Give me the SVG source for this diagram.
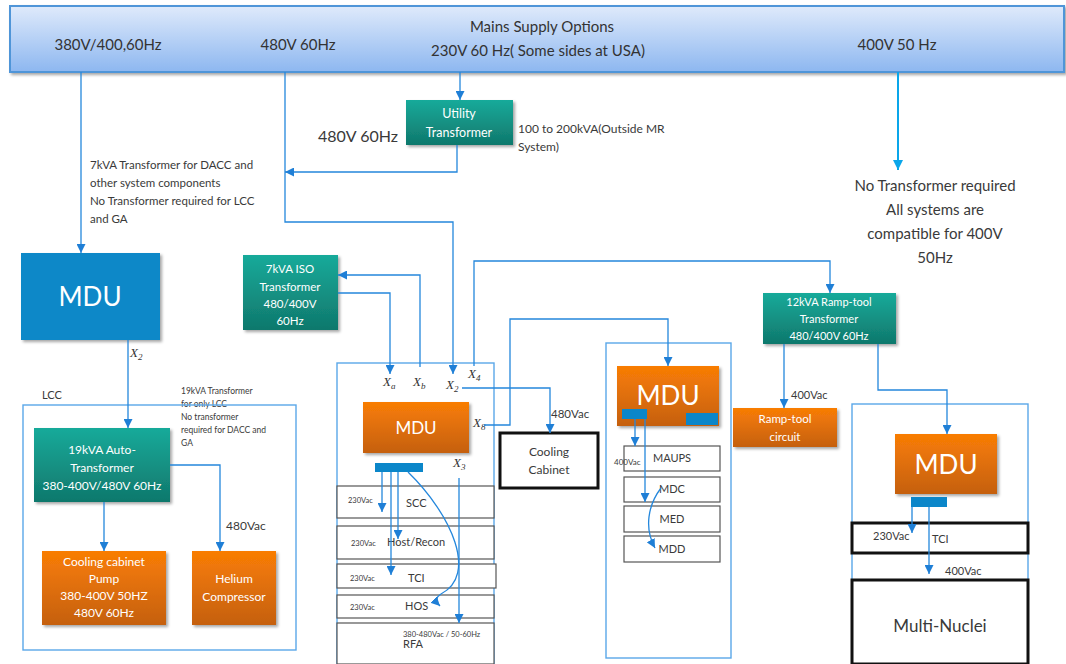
<svg xmlns="http://www.w3.org/2000/svg" width="1066" height="664" viewBox="0 0 1066 664">
  <defs>
    <linearGradient id="gBanner" x1="0" y1="0" x2="0" y2="1">
      <stop offset="0" stop-color="#dfeafb"/>
      <stop offset="1" stop-color="#8db7f0"/>
    </linearGradient>
    <linearGradient id="gTeal" x1="0" y1="0" x2="0" y2="1">
      <stop offset="0" stop-color="#19aa9a"/>
      <stop offset="1" stop-color="#0f786c"/>
    </linearGradient>
    <linearGradient id="gOrange" x1="0" y1="0" x2="0" y2="1">
      <stop offset="0" stop-color="#f97d05"/>
      <stop offset="1" stop-color="#c5600f"/>
    </linearGradient>
    <filter id="shadow" x="-10%" y="-10%" width="130%" height="140%">
      <feDropShadow dx="2" dy="2" stdDeviation="1.5" flood-color="#000" flood-opacity="0.35"/>
    </filter>
    <marker id="arr" viewBox="0 0 10 10" refX="10" refY="5" markerWidth="9" markerHeight="9" markerUnits="userSpaceOnUse" orient="auto">
      <path d="M0,0 L10,5 L0,10 z" fill="#1f7fd6"/>
    </marker>
    <marker id="arrCyan" viewBox="0 0 10 10" refX="10" refY="5" markerWidth="10" markerHeight="10" markerUnits="userSpaceOnUse" orient="auto">
      <path d="M0,0 L10,5 L0,10 z" fill="#0aa6ea"/>
    </marker>
  </defs>
  <style>
    text { font-family: Lato, "Open Sans", "Liberation Sans", sans-serif; }
    .hdr { font-size: 15px; fill: #333; }
    .lbl { fill: #3a3a3a; }
    .wt { fill: #ffffff; text-anchor: middle; }
    .mid { text-anchor: middle; }
    .teal { fill: url(#gTeal); filter: url(#shadow); }
    .orange { fill: url(#gOrange); filter: url(#shadow); }
    .frame { fill: none; stroke: #5aa7e8; stroke-width: 1.4; }
    .row { fill: #fff; stroke: #555; stroke-width: 1.2; }
    .thick { fill: #fff; stroke: #111; stroke-width: 3; }
    .bar { fill: #0b86c9; }
    .xl { font-family: "Liberation Serif", "DejaVu Serif", serif; font-style: italic; font-size: 13px; fill: #333; }
    .xs { font-size: 9px; }
    .conn path { fill: none; stroke: #2487dc; stroke-width: 1.3; }
    .conn path.a { marker-end: url(#arr); }
  </style>

  <rect width="1066" height="664" fill="#ffffff"/>

  <!-- mains supply banner -->
  <g id="mains">
    <rect x="10" y="6" width="1054" height="66" fill="url(#gBanner)" stroke="#4f95d8" stroke-width="2" filter="url(#shadow)"/>
    <text class="hdr" x="108" y="50" text-anchor="middle">380V/400,60Hz</text>
    <text class="hdr" x="298" y="50" text-anchor="middle">480V 60Hz</text>
    <text class="hdr" x="542" y="32" text-anchor="middle">Mains Supply Options</text>
    <text class="hdr" x="538" y="56" text-anchor="middle">230V 60 Hz( Some sides at USA)</text>
    <text class="hdr" x="897" y="50" text-anchor="middle">400V 50 Hz</text>
  </g>

  <!-- free labels -->
  <g id="notes" class="lbl">
    <text x="318" y="142" font-size="16">480V 60Hz</text>
    <text x="518" y="133" font-size="12">100 to 200kVA(Outside MR</text>
    <text x="518" y="151" font-size="12">System)</text>
    <text x="90" y="169" font-size="11.5">7kVA Transformer for DACC and</text>
    <text x="90" y="187" font-size="11.5">other system components</text>
    <text x="90" y="205" font-size="11.5">No Transformer required for LCC</text>
    <text x="90" y="223" font-size="11.5">and GA</text>
    <g font-size="15" text-anchor="middle">
      <text x="935" y="191">No Transformer required</text>
      <text x="935" y="215">All systems are</text>
      <text x="935" y="239">compatible for 400V</text>
      <text x="935" y="263">50Hz</text>
    </g>
    <text x="42" y="399" font-size="11">LCC</text>
    <g font-size="8.5">
      <text x="181" y="394">19kVA Transformer</text>
      <text x="181" y="407">for only LCC</text>
      <text x="181" y="420">No transformer</text>
      <text x="181" y="433">required for DACC and</text>
      <text x="181" y="446">GA</text>
    </g>
    <text x="226" y="530" font-size="12">480Vac</text>
    <text x="551" y="418" font-size="11.5">480Vac</text>
    <text x="791" y="399" font-size="11">400Vac</text>
    <text x="945" y="575" font-size="11">400Vac</text>
  </g>

  <!-- containers -->
  <g id="lcc"><rect class="frame" x="23" y="405" width="273" height="245"/></g>
  <g id="center-cabinet"><rect class="frame" x="337" y="363" width="157" height="301"/></g>
  <g id="mid-cabinet"><rect class="frame" x="606" y="343" width="125" height="315"/></g>
  <g id="right-cabinet"><rect class="frame" x="852" y="404" width="176" height="260"/></g>

  <!-- nodes -->
  <g id="utility-transformer">
    <rect class="teal" x="406" y="100" width="107" height="45"/>
    <text class="wt" x="459" y="118" font-size="12.5">Utility</text>
    <text class="wt" x="459" y="137" font-size="12.5">Transformer</text>
  </g>

  <g id="mdu-left">
    <rect x="21" y="253" width="139" height="87" fill="#0888c8" filter="url(#shadow)"/>
    <text class="wt" x="90" y="306" font-size="26">MDU</text>
  </g>

  <g id="iso-transformer">
    <rect class="teal" x="243" y="255" width="95" height="75"/>
    <text class="wt" x="290" y="273" font-size="11.5">7kVA ISO</text>
    <text class="wt" x="290" y="291" font-size="11.5">Transformer</text>
    <text class="wt" x="290" y="308" font-size="11.5">480/400V</text>
    <text class="wt" x="290" y="325" font-size="11.5">60Hz</text>
  </g>

  <g id="auto-transformer">
    <rect class="teal" x="34" y="428" width="136" height="74"/>
    <text class="wt" x="102" y="454" font-size="12">19kVA Auto-</text>
    <text class="wt" x="102" y="472" font-size="12">Transformer</text>
    <text class="wt" x="102" y="490" font-size="12">380-400V/480V 60Hz</text>
  </g>

  <g id="cooling-pump">
    <rect class="orange" x="42" y="551" width="124" height="74"/>
    <text class="wt" x="104" y="566" font-size="12">Cooling cabinet</text>
    <text class="wt" x="104" y="583" font-size="12">Pump</text>
    <text class="wt" x="104" y="600" font-size="12">380-400V 50HZ</text>
    <text class="wt" x="104" y="617" font-size="12">480V 60Hz</text>
  </g>

  <g id="helium-compressor">
    <rect class="orange" x="192" y="551" width="84" height="74"/>
    <text class="wt" x="234" y="583" font-size="12">Helium</text>
    <text class="wt" x="234" y="601" font-size="12">Compressor</text>
  </g>

  <g id="mdu-center">
    <rect class="orange" x="363" y="402" width="106" height="51"/>
    <text class="wt" x="416" y="434" font-size="17">MDU</text>
    <rect class="bar" x="375" y="463" width="48" height="9"/>
  </g>

  <g id="center-rows" class="lbl">
    <rect class="row" x="337" y="486" width="157" height="32"/>
    <rect class="row" x="337" y="526" width="157" height="33"/>
    <rect class="row" x="337" y="564" width="159" height="24"/>
    <rect class="row" x="337" y="595" width="157" height="23"/>
    <rect class="row" x="337" y="623" width="157" height="41"/>
    <g font-size="7.5">
      <text x="348" y="503">230Vac</text>
      <text x="351" y="546">230Vac</text>
      <text x="350" y="581">230Vac</text>
      <text x="350" y="610">230Vac</text>
      <text x="403" y="637">380-480Vac / 50-60Hz</text>
    </g>
    <g font-size="11">
      <text x="406" y="507">SCC</text>
      <text x="387" y="546">Host/Recon</text>
      <text x="408" y="582">TCI</text>
      <text x="405" y="610">HOS</text>
      <text x="403" y="648">RFA</text>
    </g>
  </g>

  <g id="x-labels">
    <text class="xl" x="383" y="386">X<tspan class="xs" dy="3">a</tspan></text>
    <text class="xl" x="413" y="386">X<tspan class="xs" dy="3">b</tspan></text>
    <text class="xl" x="446" y="389">X<tspan class="xs" dy="3">2</tspan></text>
    <text class="xl" x="468" y="378">X<tspan class="xs" dy="3">4</tspan></text>
    <text class="xl" x="473" y="427">X<tspan class="xs" dy="3">8</tspan></text>
    <text class="xl" x="453" y="467">X<tspan class="xs" dy="3">3</tspan></text>
    <text class="xl" x="130" y="357">X<tspan class="xs" dy="3">2</tspan></text>
  </g>

  <g id="cooling-cabinet">
    <rect class="thick" x="500" y="433" width="98" height="55"/>
    <text class="lbl mid" x="549" y="456" font-size="12">Cooling</text>
    <text class="lbl mid" x="549" y="474" font-size="12">Cabinet</text>
  </g>

  <g id="mdu-middle">
    <rect class="orange" x="617" y="366" width="102" height="60"/>
    <text class="wt" x="668" y="405" font-size="26">MDU</text>
    <rect class="bar" x="622" y="409" width="25" height="10"/>
    <rect class="bar" x="686" y="413" width="32" height="12"/>
  </g>

  <g id="middle-rows" class="lbl">
    <rect class="row" x="624" y="446" width="96" height="25"/>
    <rect class="row" x="624" y="477" width="96" height="25"/>
    <rect class="row" x="624" y="506" width="96" height="26"/>
    <rect class="row" x="624" y="536" width="96" height="26"/>
    <text x="614" y="465" font-size="8">400Vac</text>
    <g font-size="11" text-anchor="middle">
      <text x="672" y="462">MAUPS</text>
      <text x="672" y="493">MDC</text>
      <text x="672" y="523">MED</text>
      <text x="672" y="553">MDD</text>
    </g>
  </g>

  <g id="ramp-transformer">
    <rect class="teal" x="763" y="293" width="133" height="51"/>
    <text class="wt" x="829" y="306" font-size="11">12kVA Ramp-tool</text>
    <text class="wt" x="829" y="323" font-size="11">Transformer</text>
    <text class="wt" x="829" y="340" font-size="11">480/400V 60Hz</text>
  </g>

  <g id="ramp-circuit">
    <rect class="orange" x="733" y="408" width="104" height="39"/>
    <text class="wt" x="785" y="423" font-size="11.5">Ramp-tool</text>
    <text class="wt" x="785" y="441" font-size="11.5">circuit</text>
  </g>

  <g id="mdu-right">
    <rect class="orange" x="895" y="434" width="102" height="60"/>
    <text class="wt" x="946" y="474" font-size="26">MDU</text>
    <rect class="bar" x="911" y="497" width="36" height="10"/>
  </g>

  <g id="tci-right">
    <rect class="thick" x="852" y="523" width="176" height="30"/>
    <text class="lbl" x="873" y="540" font-size="11">230Vac</text>
    <text class="lbl" x="932" y="543" font-size="11">TCI</text>
  </g>

  <g id="multi-nuclei">
    <rect class="thick" x="852" y="580" width="176" height="84"/>
    <text class="lbl mid" x="940" y="632" font-size="17">Multi-Nuclei</text>
  </g>

  <!-- connectors -->
  <g id="connectors" class="conn">
    <path class="a" d="M81,72 V253"/>
    <path class="a" d="M285,72 V222 H453 V374"/>
    <path class="a" d="M460,72 V100"/>
    <path class="a" d="M457,145 V172 H285"/>
    <path d="M898,72 V170" style="stroke:#0aa6ea;stroke-width:2;marker-end:url(#arrCyan)"/>
    <path class="a" d="M128,340 V428"/>
    <path class="a" d="M104,502 V551"/>
    <path class="a" d="M170,465 H220 V551"/>
    <path class="a" d="M420,367 V275 H338"/>
    <path class="a" d="M338,293 H390 V374"/>
    <path class="a" d="M474,366 V261 H830 V293"/>
    <path class="a" d="M462,388 H550 V433"/>
    <path class="a" d="M484,425 H510 V319 H668 V366"/>
    <path class="a" d="M784,344 V408"/>
    <path class="a" d="M878,344 V390 H947 V434"/>
    <path class="a" d="M382,472 V512"/>
    <path class="a" d="M398,472 V539"/>
    <path class="a" d="M391,472 V575"/>
    <path class="a" d="M408,472 C452,515 478,575 441,594 Q433,599 440,606"/>
    <path class="a" d="M459,478 V623"/>
    <path class="a" d="M635,419 V446"/>
    <path class="a" d="M645,419 V502"/>
    <path class="a" d="M661,488 C648,505 644,528 655,548"/>
    <path class="a" d="M912,507 V533"/>
    <path class="a" d="M929,507 V574"/>
  </g>
</svg>
